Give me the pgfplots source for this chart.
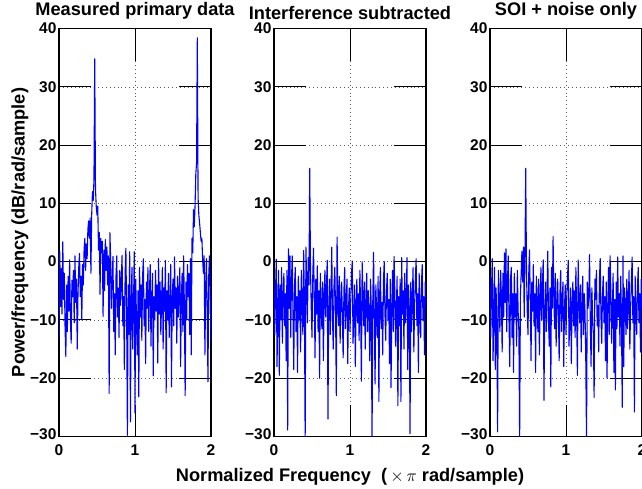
\documentclass[border=0pt]{standalone}
\usepackage{fontspec}
\setmainfont{Liberation Sans}
\usepackage{pgfplots}
\usepackage{pgfplotstable}
\pgfplotsset{compat=1.18}

\pgfplotstableread{
x A B C
0.00 -13.2 -3.0 -2.5
0.01 1.7 -12.5 -13.0
0.02 -7.7 -5.0 -4.5
0.03 -1.2 0.4 0.5
0.04 -9.0 -18.0 -17.0
0.05 3.4 -8.5 -9.0
0.06 -6.5 -1.5 -1.0
0.07 -2.0 -19.5 -18.5
0.08 -11.5 -4.0 -4.5
0.09 -16.3 -10.0 -11.0
0.10 -4.0 -1.0 -29.2
0.11 -12.0 -14.0 -1.5
0.12 -2.5 -6.0 -6.5
0.13 -8.5 -2.0 -12.0
0.14 0.3 -11.0 -1.5
0.15 -9.8 -5.5 -6.0
0.16 -14.0 -17.0 -15.5
0.17 -3.2 -1.5 -2.0
0.18 -6.0 -28.9 -9.5
0.19 -1.5 2.2 1.5
0.20 -10.5 -8.0 -7.0
0.21 1.0 1.0 2.2
0.22 -7.0 -13.0 -12.0
0.23 -3.0 -3.0 -3.5
0.24 -15.0 1.0 1.0
0.25 -5.5 -9.5 -10.0
0.26 -1.0 -18.5 -18.0
0.27 1.4 -4.0 -3.0
0.28 -6.0 -1.0 -1.0
0.29 -2.5 -12.0 -13.0
0.30 -10.0 -6.0 -5.5
0.31 -0.5 -19.0 -19.0
0.32 -4.0 -2.5 -2.0
0.33 2.0 -10.0 -9.5
0.34 4.0 -5.0 -5.5
0.35 -1.5 -15.5 -14.5
0.36 3.0 -1.5 -1.5
0.37 0.5 -8.0 -8.5
0.38 5.5 -12.5 -12.0
0.39 7.0 1.9 -30.5
0.40 4.0 -6.5 -6.0
0.41 7.5 -31.0 -2.0
0.42 -2.0 2.5 1.8
0.43 8.0 -3.5 -3.5
0.44 12.0 -10.5 2.5
0.45 10.5 0.7 -9.5
0.46 14.0 -4.0 1.0
0.47 34.8 16.0 16.0
0.48 12.5 -1.0 -1.5
0.49 9.5 -8.0 -8.5
0.50 8.0 -13.0 -12.5
0.51 9.5 -2.5 -2.0
0.52 2.0 2.3 2.0
0.53 5.0 -6.0 -6.5
0.54 -5.6 -16.5 -17.0
0.55 4.0 -3.0 -3.5
0.56 1.5 -9.0 -8.5
0.57 3.5 -0.7 -0.5
0.58 -9.4 -12.0 -11.0
0.59 2.0 -5.0 -5.5
0.60 -5.0 -20.0 -19.0
0.61 3.8 -2.0 -2.5
0.62 -1.5 -7.5 -7.0
0.63 2.5 -11.5 -12.0
0.64 -4.0 -3.5 -3.0
0.65 1.0 -17.0 -16.0
0.66 -22.6 -6.0 -6.5
0.67 5.0 -1.5 -1.0
0.68 0.3 -9.5 -10.0
0.69 -8.0 -4.5 -4.0
0.70 -3.0 0.2 0.3
0.71 0.9 -27.0 -23.8
0.72 -12.0 -8.0 -8.5
0.73 -5.5 -3.0 -3.5
0.74 -16.0 -12.5 -12.0
0.75 -2.5 -5.5 -6.0
0.76 1.0 2.5 1.8
0.77 -9.5 -10.0 -10.5
0.78 -4.5 -15.0 -14.5
0.79 -13.0 -4.0 -4.5
0.80 -1.5 -1.0 -21.5
0.81 -7.5 -8.5 -1.0
0.82 -3.0 -23.0 -8.0
0.83 1.1 4.2 4.3
0.84 -11.0 -6.0 -6.5
0.85 -6.0 -11.0 -11.5
0.86 -18.5 -2.5 -2.0
0.87 -2.0 -14.0 -14.5
0.88 2.3 -7.0 -7.5
0.89 -9.0 -3.5 -3.0
0.90 -29.8 -9.5 -9.0
0.91 -4.0 -16.5 -17.0
0.92 -12.5 -5.0 -5.5
0.93 1.7 -1.0 -1.5
0.94 -27.5 -11.5 -12.0
0.95 -6.5 -7.5 -7.0
0.96 -1.0 -3.0 -3.5
0.97 -15.0 -17.5 -18.0
0.98 -8.0 -8.5 -8.0
0.99 1.7 -4.5 -4.0
1.00 -26.0 -12.0 -12.5
1.01 -3.0 -6.5 -6.0
1.02 -10.5 -2.0 -2.5
1.03 -16.0 0.1 0.2
1.04 -5.0 -14.0 -14.5
1.05 -23.2 -9.0 -9.5
1.06 -1.0 -4.0 -4.5
1.07 -9.5 -18.0 -17.5
1.08 -4.0 -7.5 -7.0
1.09 -13.5 -3.0 -3.5
1.10 -2.5 -10.5 -11.0
1.11 0.5 -5.5 -5.0
1.12 -11.0 -13.5 -13.0
1.13 -6.5 -1.5 -1.0
1.14 -17.5 -8.5 -9.0
1.15 -3.5 -20.5 -19.5
1.16 -8.0 0.0 0.3
1.17 -1.0 -6.0 -6.5
1.18 -12.0 -11.0 -10.5
1.19 -5.5 -3.5 -4.0
1.20 -0.5 -15.0 -15.5
1.21 -14.5 -7.0 -7.5
1.22 -7.0 -2.0 -2.5
1.23 -2.0 -12.0 -12.5
1.24 -19.6 -5.0 -5.5
1.25 -6.0 -9.0 -8.5
1.26 -10.0 -17.0 -16.5
1.27 -1.5 -3.0 -31.0
1.28 -8.5 -8.0 -3.5
1.29 -4.0 -31.0 -8.0
1.30 -17.4 -6.5 -6.0
1.31 0.5 1.6 1.2
1.32 -9.0 -10.0 -10.5
1.33 -3.5 -21.0 -18.0
1.34 -12.5 -4.0 -4.5
1.35 -6.5 -8.5 -9.0
1.36 -1.0 -13.0 -12.5
1.37 -15.0 -2.5 -23.3
1.38 -4.5 -24.0 -3.0
1.39 -8.5 -6.0 -6.5
1.40 0.2 -1.0 -1.5
1.41 -22.5 -11.5 -11.0
1.42 -5.0 -7.0 -7.5
1.43 -10.0 -16.0 -15.5
1.44 -2.0 -3.5 -3.0
1.45 -13.0 0.0 0.5
1.46 -7.0 -9.0 -9.5
1.47 -0.5 -13.5 -14.0
1.48 -21.5 -5.0 -5.5
1.49 -6.0 -2.0 -2.5
1.50 -3.0 -10.0 -10.5
1.51 -11.0 -6.5 -6.0
1.52 0.8 -17.5 -17.0
1.53 -8.0 -3.0 -3.5
1.54 -4.5 -21.6 -20.0
1.55 -14.0 -7.5 -7.0
1.56 -2.5 -1.5 -1.0
1.57 -9.5 -12.0 -12.5
1.58 -5.5 0.9 1.0
1.59 -1.0 -5.5 -5.0
1.60 -18.0 -14.5 -14.0
1.61 -6.5 -8.0 -8.5
1.62 -2.0 -2.5 -2.0
1.63 -12.0 -24.7 -19.0
1.64 1.0 -6.0 -6.5
1.65 -8.0 -11.0 -22.0
1.66 -23.0 -3.0 -3.5
1.67 -3.5 -24.0 -11.5
1.68 -10.0 0.7 0.8
1.69 -0.5 -9.0 -9.5
1.70 -6.0 -5.0 -5.5
1.71 -2.0 -15.0 -14.5
1.72 -12.5 -2.0 -2.5
1.73 0.5 -10.5 -10.0
1.74 -16.0 -6.5 -25.0
1.75 4.0 0.7 1.0
1.76 1.5 -18.5 -18.0
1.77 8.9 -4.0 -4.5
1.78 6.0 -8.0 -7.5
1.79 9.5 -29.5 -12.5
1.80 15.0 -3.5 -3.0
1.81 17.0 -12.0 -11.5
1.82 38.4 -6.0 -6.5
1.83 11.0 -1.0 -1.5
1.84 8.0 -15.5 -15.0
1.85 6.6 -7.5 -8.0
1.86 5.0 -3.0 -3.5
1.87 3.5 0.5 0.8
1.88 4.0 -11.0 -10.5
1.89 0.3 -5.5 -6.0
1.90 -2.0 -19.0 -25.8
1.91 1.0 -2.0 -2.5
1.92 -16.0 -8.5 -9.0
1.93 -4.0 -13.0 -12.5
1.94 0.5 -4.0 -4.5
1.95 -8.0 -0.5 -1.0
1.96 -20.6 -10.0 -10.5
1.97 -2.5 -6.0 -5.5
1.98 1.0 -16.0 -15.5
1.99 -6.0 -3.5 -3.0
2.00 -13.6 -7.5 -8.0
}\psd

\pgfplotsset{
  psdpanel/.style={
    scale only axis, width=152pt, height=408pt,
    xmin=0, xmax=2, ymin=-30, ymax=40,
    xtick={0,1,2}, xticklabels={0,1,2},
    ytick={-30,-20,-10,0,10,20,30,40},
    yticklabels={\raisebox{4pt}{−30},−20,−10,0,10,20,30,40},
    grid=major,
    major grid style={black!65, line width=0.55pt, dash pattern=on 0.7pt off 3.2pt},
    tick align=inside, major tick length=32pt,
    major tick style={black, line width=1pt},
    axis line style={line width=1.2pt},
    tick label style={font=\fontsize{15.5}{16}\selectfont\bfseries},
    xticklabel style={yshift=-5pt},
    yticklabel style={xshift=1pt},
    title style={font=\fontsize{18.2}{20}\selectfont\bfseries, yshift=-0.5pt},
    label style={font=\fontsize{18.2}{20}\selectfont\bfseries},
  },
  psdline/.style={blue, line width=1.1pt, line join=round},
}

\begin{document}
\begin{tikzpicture}
\useasboundingbox (0,0) rectangle (642pt,488pt);
\begin{axis}[psdpanel, at={(59pt,51.5pt)}, anchor=south west,
  title={Measured primary data},
  ylabel={Power/frequency (dB/rad/sample)},
  ylabel style={yshift=-5pt}]
\addplot[psdline] table[x=x, y=A] {\psd};
\end{axis}
\begin{axis}[psdpanel, at={(274pt,51.5pt)}, anchor=south west,
  title={Interference subtracted},
  xlabel={Normalized Frequency\ \ (\,$\times\,\pi$ rad/sample)},
  xlabel style={yshift=-5pt}]
\addplot[psdline] table[x=x, y=B] {\psd};
\end{axis}
\begin{axis}[psdpanel, at={(490pt,51.5pt)}, anchor=south west,
  title={SOI + noise only}]
\addplot[psdline] table[x=x, y=C] {\psd};
\end{axis}
\end{tikzpicture}
\end{document}
